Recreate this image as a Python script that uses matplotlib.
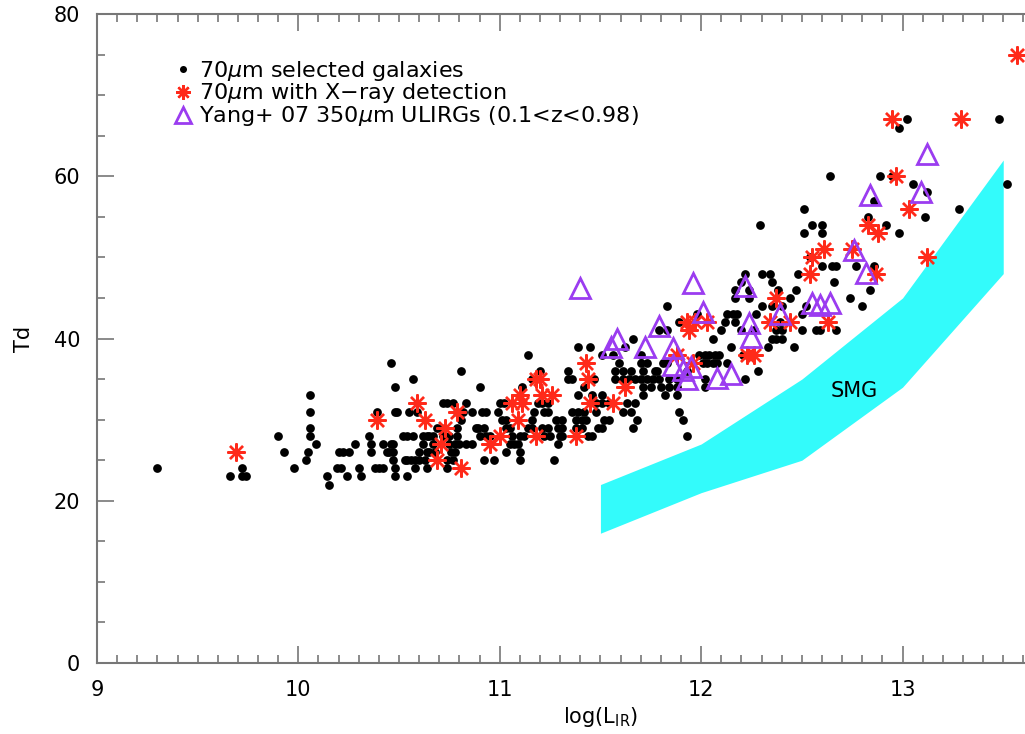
import numpy as np
import matplotlib
matplotlib.use('Agg')
import matplotlib.pyplot as plt
from matplotlib.ticker import MultipleLocator

# 70um selected galaxies: (log L_IR, Td)
field = [
    (10.15, 22),
    (9.66, 23), (9.72, 23), (9.74, 23), (10.14, 23), (10.24, 23), (10.31, 23), (10.48, 23), (10.54, 23),
    (9.30, 24), (9.72, 24), (9.98, 24), (10.19, 24), (10.21, 24), (10.30, 24), (10.38, 24), (10.40, 24),
    (10.42, 24), (10.48, 24), (10.58, 24), (10.64, 24), (10.74, 24),
    (10.04, 25), (10.47, 25), (10.53, 25), (10.54, 25), (10.56, 25), (10.58, 25), (10.60, 25), (10.63, 25),
    (10.74, 25), (10.77, 25), (10.92, 25), (10.97, 25), (11.10, 25), (11.27, 25),
    (9.93, 26), (10.05, 26), (10.20, 26), (10.22, 26), (10.25, 26), (10.36, 26), (10.44, 26), (10.45, 26),
    (10.47, 26), (10.60, 26), (10.64, 26), (10.65, 26), (10.68, 26), (10.76, 26), (10.78, 26), (11.03, 26),
    (11.10, 26),
    (10.09, 27), (10.28, 27), (10.36, 27), (10.42, 27), (10.46, 27), (10.47, 27), (10.62, 27), (10.67, 27),
    (10.75, 27), (10.78, 27), (10.80, 27), (10.83, 27), (10.86, 27), (11.05, 27), (11.07, 27), (11.09, 27),
    (11.29, 27),
    (9.90, 28), (10.06, 28), (10.35, 28), (10.52, 28), (10.54, 28), (10.57, 28), (10.62, 28), (10.64, 28),
    (10.65, 28), (10.67, 28), (10.72, 28), (10.75, 28), (10.79, 28), (10.90, 28), (10.93, 28), (10.95, 28),
    (11.06, 28), (11.10, 28), (11.12, 28), (11.22, 28), (11.25, 28), (11.30, 28), (11.31, 28), (11.44, 28),
    (11.46, 28), (11.93, 28),
    (10.06, 29), (10.69, 29), (10.71, 29), (10.79, 29), (10.88, 29), (10.89, 29), (10.92, 29), (11.03, 29),
    (11.05, 29), (11.14, 29), (11.16, 29), (11.21, 29), (11.24, 29), (11.29, 29), (11.31, 29), (11.38, 29),
    (11.41, 29), (11.49, 29), (11.51, 29), (11.66, 29),
    (10.81, 30), (11.01, 30), (11.03, 30), (11.16, 30), (11.28, 30), (11.31, 30), (11.38, 30), (11.41, 30),
    (11.43, 30), (11.52, 30), (11.54, 30), (11.68, 30), (11.91, 30),
    (10.06, 31), (10.39, 31), (10.48, 31), (10.49, 31), (10.55, 31), (10.59, 31), (10.79, 31), (10.82, 31),
    (10.86, 31), (10.91, 31), (10.93, 31), (10.99, 31), (11.17, 31), (11.22, 31), (11.24, 31), (11.36, 31),
    (11.39, 31), (11.42, 31), (11.48, 31), (11.61, 31), (11.65, 31), (11.89, 31),
    (10.72, 32), (10.74, 32), (10.77, 32), (10.83, 32), (11.00, 32), (11.02, 32), (11.19, 32), (11.21, 32),
    (11.24, 32), (11.48, 32), (11.51, 32), (11.54, 32), (11.63, 32), (11.67, 32),
    (10.06, 33), (11.39, 33), (11.46, 33), (11.51, 33), (11.71, 33), (11.82, 33), (11.88, 33),
    (10.48, 34), (10.90, 34), (11.11, 34), (11.42, 34), (11.71, 34), (11.75, 34), (11.80, 34), (11.84, 34),
    (11.88, 34), (12.02, 34),
    (10.57, 35), (11.16, 35), (11.34, 35), (11.36, 35), (11.47, 35), (11.57, 35), (11.61, 35), (11.64, 35),
    (11.67, 35), (11.70, 35), (11.73, 35), (11.76, 35), (11.79, 35), (11.84, 35), (11.88, 35), (12.02, 35),
    (12.22, 35),
    (10.81, 36), (11.20, 36), (11.34, 36), (11.57, 36), (11.61, 36), (11.65, 36), (11.71, 36), (11.77, 36),
    (11.78, 36), (11.93, 36), (12.28, 36),
    (10.46, 37), (11.59, 37), (11.70, 37), (11.73, 37), (11.81, 37), (11.83, 37), (12.01, 37), (12.03, 37),
    (12.06, 37), (12.08, 37), (12.13, 37),
    (11.14, 38), (11.51, 38), (11.56, 38), (11.70, 38), (11.99, 38), (12.02, 38), (12.04, 38), (12.07, 38),
    (12.09, 38), (12.21, 38),
    (11.39, 39), (11.45, 39), (11.62, 39), (12.15, 39), (12.33, 39), (12.46, 39),
    (11.66, 40), (12.06, 40), (12.35, 40), (12.37, 40), (12.40, 40),
    (11.79, 41), (11.83, 41), (12.10, 41), (12.20, 41), (12.26, 41), (12.37, 41), (12.40, 41), (12.50, 41),
    (12.57, 41), (12.59, 41), (12.67, 41),
    (11.89, 42), (12.12, 42), (12.17, 42), (12.39, 42),
    (11.98, 43), (12.13, 43), (12.16, 43), (12.18, 43), (12.27, 43), (12.50, 43),
    (11.83, 44), (12.30, 44), (12.35, 44), (12.40, 44), (12.52, 44), (12.80, 44),
    (12.17, 45), (12.24, 45), (12.44, 45), (12.74, 45),
    (12.17, 46), (12.24, 46), (12.38, 46), (12.47, 46), (12.84, 46),
    (12.20, 47), (12.35, 47), (12.66, 47),
    (12.22, 48), (12.30, 48), (12.34, 48), (12.48, 48),
    (12.60, 49), (12.65, 49), (12.67, 49), (12.77, 49), (12.86, 49),
    (12.54, 50),
    (12.51, 53), (12.60, 53), (12.98, 53),
    (12.29, 54), (12.55, 54), (12.60, 54), (12.92, 54),
    (12.83, 55), (13.11, 55),
    (12.51, 56), (13.28, 56),
    (12.86, 57), (13.12, 58), (13.05, 59), (13.52, 59),
    (12.64, 60), (12.89, 60), (12.95, 60),
    (12.98, 66), (13.02, 67), (13.48, 67),
]

# 70um sources with X-ray detection
xray = [
    (9.69, 26), (10.39, 30), (10.59, 32), (10.63, 30), (10.73, 29), (10.79, 31), (10.71, 27), (10.69, 25),
    (10.81, 24), (10.95, 27), (11.00, 28), (11.06, 32), (11.11, 32), (11.10, 33), (11.09, 30), (11.18, 35),
    (11.20, 35), (11.18, 28), (11.21, 33), (11.26, 33), (11.38, 28), (11.43, 37), (11.44, 35), (11.45, 32),
    (11.56, 32), (11.62, 34), (11.88, 38), (11.96, 37), (11.93, 42), (11.94, 41), (11.97, 42), (12.03, 42),
    (12.23, 38), (12.26, 38), (12.34, 42), (12.44, 42), (12.37, 45), (12.54, 48), (12.55, 50), (12.61, 51),
    (12.63, 42), (12.75, 51), (12.83, 54), (12.88, 53), (12.87, 48), (12.95, 67), (12.97, 60), (13.03, 56),
    (13.12, 50), (13.29, 67), (13.57, 75),
]

# Yang+07 350um ULIRGs
yang07 = [
    (11.40, 46.2), (11.55, 39.0), (11.58, 40.0), (11.72, 39.0), (11.79, 41.5), (11.86, 38.8), (11.86, 36.7),
    (11.91, 36.1), (11.95, 36.5), (11.93, 35.0), (11.96, 46.8), (12.01, 43.3), (12.08, 35.1), (12.15, 35.6),
    (12.22, 46.5), (12.24, 41.9), (12.25, 40.2), (12.39, 43.0), (12.55, 44.4), (12.59, 44.1), (12.64, 44.4),
    (12.76, 50.9), (12.82, 48.1), (12.84, 57.7), (13.09, 58.1), (13.12, 62.8),
]

# SMG region
smg_logl = [11.5, 12.0, 12.5, 13.0, 13.5]
smg_td_lo = [16, 21, 25, 34, 48]
smg_td_hi = [22, 27, 35, 45, 62]

xticks = [9, 10, 11, 12, 13]

field = np.array(field)
xray = np.array(xray)
yang07 = np.array(yang07)

plt.rcParams['font.family'] = ['DejaVu Sans']
fig = plt.figure(figsize=(10.25, 7.34), dpi=100)
ax = fig.add_axes([0.0946, 0.0967, 0.9824, 0.8842])

ax.fill_between(smg_logl, smg_td_lo, smg_td_hi, color='#33fbfb', lw=0, zorder=1)
ax.text(12.76, 33.5, 'SMG', fontsize=15, ha='center', va='center', zorder=5)

ax.plot(field[:, 0], field[:, 1], 'o', color='black', ms=6.3, mew=0, zorder=2,
        label=r'70$\mu$m selected galaxies')
ax.plot(xray[:, 0], xray[:, 1], marker=(8, 2, 0), ls='none', color='#ff2a1a', ms=13, mew=1.7, zorder=3,
        label=r'70$\mu$m with X$-$ray detection')
ax.plot(yang07[:, 0], yang07[:, 1], '^', mfc='none', mec='#9b3cf0', ms=14, mew=2, zorder=4,
        label=r'Yang+ 07 350$\mu$m ULIRGs (0.1<z<0.98)')

ax.set_xlim(9, 14)
ax.set_ylim(0, 80)
ax.set_xticks(xticks)
ax.xaxis.set_minor_locator(MultipleLocator(0.1))
ax.yaxis.set_major_locator(MultipleLocator(20))
ax.yaxis.set_minor_locator(MultipleLocator(5))
ax.tick_params(which='both', direction='in', top=True, right=True, color='#777777', width=1.2,
               labelsize=15, pad=12)
ax.tick_params(which='major', length=12)
ax.tick_params(which='minor', length=6)
for s in ax.spines.values():
    s.set_color('#777777')
    s.set_linewidth(1.5)

ax.set_xlabel(r'log(L$_{\mathregular{IR}}$)', fontsize=15, labelpad=4)
ax.set_ylabel('Td', fontsize=15, labelpad=14)

ax.legend(loc='upper left', bbox_to_anchor=(0.068, 0.945), frameon=False, fontsize=16,
          handlelength=0.8, handletextpad=0.3, labelspacing=-0.05, borderaxespad=0, markerscale=0.8)

fig.savefig('out.png', dpi=100)
